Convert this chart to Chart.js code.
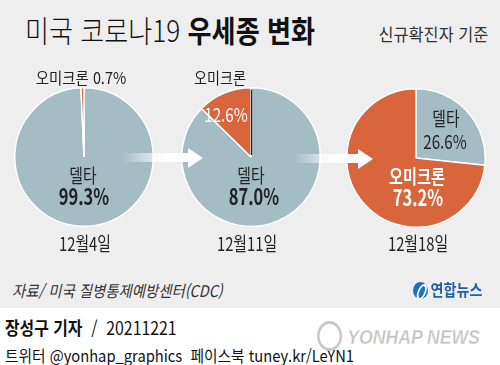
<!DOCTYPE html>
<html lang="ko">
<head>
<meta charset="utf-8">
<script src="https://cdn.jsdelivr.net/npm/chart.js@4.4.1/dist/chart.umd.min.js"></script>
<style>
  html, body { margin: 0; padding: 0; background: #ffffff; }
  #board {
    position: relative; width: 500px; height: 365px; overflow: hidden;
    background: #ffffff;
    font-family: "Noto Sans CJK KR", "Noto Sans", sans-serif; color: #222;
  }
  #panel { position: absolute; left: 0; top: 0; width: 500px; height: 308px; background: #eeeeee; }
  .pie { position: absolute; width: 140px; height: 140px; }
  .txt { position: absolute; white-space: nowrap; line-height: 1; }
  .arrow-shaft {
    position: absolute; height: 9px;
    background: linear-gradient(to right, rgba(255,255,255,0), rgba(255,255,255,0.95) 70%, #ffffff);
  }
  .arrow-head {
    position: absolute; width: 15px; height: 20px; background: #ffffff;
    clip-path: polygon(0 0, 100% 50%, 0 100%);
  }
</style>
</head>
<body>
<div id="board">
  <div id="panel"></div>
  <canvas id="pie1" class="pie" width="140" height="140" style="left:14px;top:87px"></canvas>
  <canvas id="pie2" class="pie" width="140" height="140" style="left:181px;top:87px"></canvas>
  <canvas id="pie3" class="pie" width="140" height="140" style="left:346px;top:88px"></canvas>

  <!-- arrows -->
  <div class="arrow-shaft" style="left:121px;top:153px;width:69px"></div>
  <div class="arrow-head" style="left:188px;top:148px"></div>
  <div class="arrow-shaft" style="left:293px;top:154px;width:67px"></div>
  <div class="arrow-head" style="left:358px;top:149px"></div>
</div>
<script>
(function () {
    "use strict";

    // 데이터
    var dates = ['12월4일', '12월11일', '12월18일'];
    var variants = ['델타', '오미크론'];
    var deltaShare = [99.3, 87.0, 26.6];
    var omicronShare = [0.7, 12.6, 73.2];

    var DELTA = '#a4bcc4';
    var OMICRON = '#d8653b';

    var board = document.getElementById('board');

    // 텍스트 배치 (cx, cy 기준 중앙 정렬)
    function put(html, cx, cy, size, opts) {
        opts = opts || {};
        var el = document.createElement('div');
        el.className = 'txt';
        el.innerHTML = html;
        el.style.fontSize = size + 'px';
        el.style.fontWeight = opts.weight || 400;
        el.style.color = opts.color || '#222';
        if (opts.italic) el.style.fontStyle = 'italic';
        var sx = opts.sx || 1;
        var align = opts.align || 'center';
        el.style.top = cy + 'px';
        if (align === 'left') {
            el.style.left = cx + 'px';
            el.style.transformOrigin = '0 50%';
            el.style.transform = 'translateY(-50%) scaleX(' + sx + ')';
        } else if (align === 'right') {
            el.style.right = (500 - cx) + 'px';
            el.style.transformOrigin = '100% 50%';
            el.style.transform = 'translateY(-50%) scaleX(' + sx + ')';
        } else {
            el.style.left = cx + 'px';
            el.style.transform = 'translate(-50%,-50%) scaleX(' + sx + ')';
        }
        el.style.zIndex = 5;
        board.appendChild(el);
        return el;
    }

    function pct(v) { return v.toFixed(1) + '%'; }

    // 두번째 파이 위의 지시선
    var leader = {
        id: 'leader',
        afterDraw: function (chart, args, o) {
            if (!o.show) return;
            var arc = chart.getDatasetMeta(0).data[0];
            var c = chart.ctx;
            c.save();
            c.strokeStyle = '#222';
            c.lineWidth = 1.3;
            c.beginPath();
            c.moveTo(arc.x + 0.5, arc.y - 2);
            c.lineTo(arc.x + 0.5, arc.y - arc.outerRadius + 2);
            c.stroke();
            c.restore();
        }
    };

    function makePie(id, i, showLeader) {
        var ctx = document.getElementById(id).getContext('2d');
        return new Chart(ctx, {
            type: 'pie',
            data: {
                labels: variants,
                datasets: [{
                    data: [deltaShare[i], omicronShare[i]],
                    backgroundColor: [DELTA, OMICRON],
                    borderColor: '#ffffff',
                    borderWidth: 1.5,
                    hoverOffset: 0
                }]
            },
            options: {
                responsive: false,
                animation: false,
                devicePixelRatio: 1,
                layout: { padding: 0 },
                plugins: {
                    legend: { display: false },
                    tooltip: { enabled: false },
                    leader: { show: showLeader }
                }
            },
            plugins: [leader]
        });
    }

    if (typeof Chart !== 'undefined') {
        makePie('pie1', 0, false);
        makePie('pie2', 1, true);
        makePie('pie3', 2, false);
    } else {
        console.error('Chart.js 로드 실패');
    }

    // 제목
    put('<span style="font-weight:300">미국 코로나19 </span><b>우세종 변화</b>', 25, 29, 30, { align: 'left', sx: 0.87, color: '#111' });
    put('신규확진자 기준', 488, 33, 17, { align: 'right', sx: 0.96, color: '#333' });

    // 파이 1
    put(variants[1] + ' ' + pct(omicronShare[0]), 81, 77, 16, { sx: 0.9 });
    put(variants[0], 83, 174, 19, { sx: 0.78 });
    put(pct(deltaShare[0]), 84, 195, 22, { weight: 700, sx: 0.75 });

    // 파이 2
    put(variants[1], 220, 77, 16, { sx: 0.88 });
    put(pct(omicronShare[1]), 226, 113, 19, { color: '#ffffff', sx: 0.8 });
    put(variants[0], 251, 174, 19, { sx: 0.78 });
    put(pct(deltaShare[1]), 254, 195, 22, { weight: 700, sx: 0.75 });

    // 파이 3
    put(variants[0], 446, 117, 19, { sx: 0.78 });
    put(pct(deltaShare[2]), 445, 140, 19, { sx: 0.8 });
    put(variants[1], 417, 175, 19, { weight: 700, color: '#ffffff', sx: 0.8 });
    put(pct(omicronShare[2]), 418, 196, 22, { weight: 700, color: '#ffffff', sx: 0.75 });

    // 날짜
    put(dates[0], 85, 242, 19, { sx: 0.78 });
    put(dates[1], 247, 242, 19, { sx: 0.78 });
    put(dates[2], 418, 242, 19, { sx: 0.78 });

    // 출처, 로고
    put('자료/ 미국 질병통제예방센터(CDC)', 12, 290, 16, { align: 'left', italic: true, sx: 0.9, color: '#333' });
    put('<span style="display:inline-block;width:17px;height:17px;border-radius:50%;background:#1f6fc5;vertical-align:-3px;margin-right:3px;position:relative"><span style="position:absolute;left:5px;top:2px;width:6px;height:12px;border:2px solid #fff;border-radius:50%;transform:skewX(-20deg)"></span></span>연합뉴스',
        413, 290, 16, { align: 'left', weight: 700, color: '#1f5fae', sx: 0.88 });

    // 하단 바이라인
    put('<b>장성구 기자</b>&nbsp; /&nbsp; 20211221', 5, 327, 18, { align: 'left', sx: 0.88, color: '#111' });
    put('트위터 @yonhap_graphics&nbsp; 페이스북 tuney.kr/LeYN1', 5, 355, 16, { align: 'left', sx: 0.92, color: '#111' });

    // 워터마크
    var wm = put('<span style="display:inline-block;width:24px;height:24px;border-radius:50%;border:3px solid #c8c8c8;vertical-align:-7px;margin-right:6px"></span>YONHAP NEWS',
        317, 336, 21, { align: 'left', weight: 700, italic: true, color: '#c2c2c2', sx: 0.84 });
    wm.style.fontFamily = '"Liberation Sans", "DejaVu Sans", sans-serif';
    wm.style.webkitTextStroke = '0.4px #ffffff';
})();
</script>
</body>
</html>
